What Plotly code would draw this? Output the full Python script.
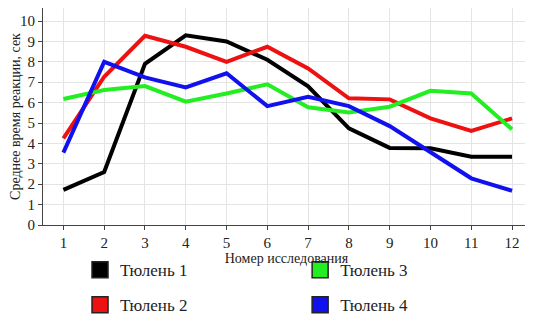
import plotly.graph_objects as go

trials = list(range(1, 13))
seal1 = [1.72, 2.6, 7.9, 9.3, 9.0, 8.1, 6.8, 4.74, 3.78, 3.76, 3.35, 3.35]
seal2 = [4.25, 7.27, 9.28, 8.74, 8.0, 8.74, 7.68, 6.21, 6.16, 5.23, 4.61, 5.23]
seal3 = [6.18, 6.62, 6.81, 6.05, 6.45, 6.9, 5.77, 5.52, 5.8, 6.58, 6.45, 4.69]
seal4 = [3.55, 8.0, 7.24, 6.75, 7.44, 5.83, 6.29, 5.83, 4.85, 3.59, 2.29, 1.68]
names = ["Тюлень 1", "Тюлень 2", "Тюлень 3", "Тюлень 4"]
colors = ["#000000", "#ee1111", "#22ee22", "#1111ee"]
series = [seal1, seal2, seal3, seal4]
legends = ["legend", "legend", "legend2", "legend2"]

FONT = "Liberation Serif"
fig = go.Figure()
for name, col, ys, lg in zip(names, colors, series, legends):
    fig.add_trace(go.Scatter(x=trials, y=ys, mode="lines", name=name,
                             line=dict(color=col, width=4), showlegend=False))
for i, (name, col, lg) in enumerate(zip(names, colors, legends)):
    fig.add_trace(go.Scatter(x=[None], y=[None], mode="markers", name=name,
                             legendgroup=f"g{i}", legend=lg,
                             marker=dict(symbol="square", size=16, color=col,
                                         line=dict(color="#222222", width=1.5))))

axis_common = dict(showline=True, linecolor="#444444", linewidth=1, mirror=True,
                   ticks="outside", ticklen=4, tickcolor="#444444", automargin=False,
                   showgrid=True, gridcolor="#e4e4e4", gridwidth=1, zeroline=False,
                   tickfont=dict(family=FONT, size=15, color="#222222"))

fig.update_layout(
    width=533, height=320,
    margin=dict(l=35, r=11, t=0, b=103, autoexpand=False),
    paper_bgcolor="white", plot_bgcolor="white",
    font=dict(family=FONT, color="#222222"),
    xaxis=dict(range=[0.5, 12.44], tickmode="array", tickvals=trials,
               title=dict(text="Номер исследования", font=dict(family=FONT, size=14), standoff=0),
               **axis_common),
    yaxis=dict(range=[0, 10.64], tickmode="array", tickvals=list(range(0, 11)),
               title=dict(text="Среднее время реакции, сек", font=dict(family=FONT, size=14), standoff=4),
               **axis_common),
    legend=dict(x=0.076, y=-0.125, xanchor="left", yanchor="top", orientation="v",
                traceorder="grouped", tracegroupgap=10,
                font=dict(family=FONT, size=17, color="#222222"), bgcolor="rgba(0,0,0,0)"),
    legend2=dict(x=0.528, y=-0.125, xanchor="left", yanchor="top", orientation="v",
                 traceorder="grouped", tracegroupgap=10,
                 font=dict(family=FONT, size=17, color="#222222"), bgcolor="rgba(0,0,0,0)"),
)
fig.write_html("out.html")
